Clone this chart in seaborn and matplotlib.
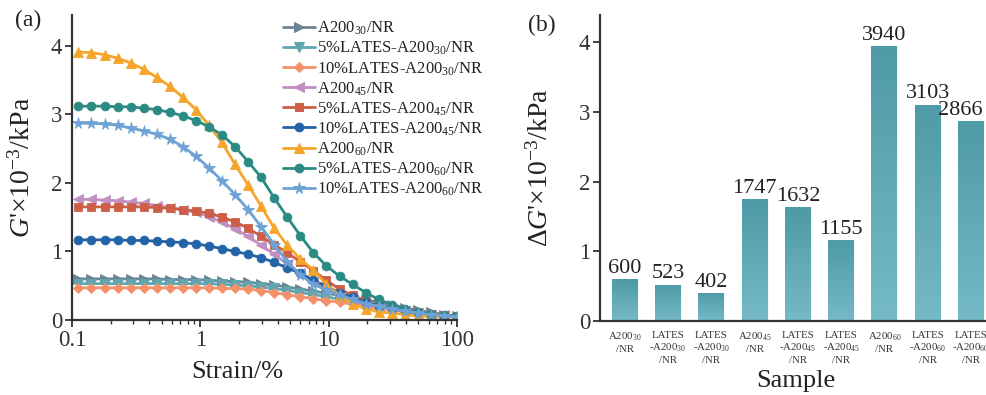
import numpy as np
import pandas as pd
import matplotlib
matplotlib.use("Agg")
import matplotlib.pyplot as plt
from matplotlib.colors import LinearSegmentedColormap
from matplotlib.ticker import FixedLocator, FixedFormatter, LogLocator, NullFormatter
import seaborn as sns

# ---------------- data ----------------
strain = [0.1122, 0.1418, 0.1792, 0.2265, 0.2863, 0.3619, 0.4574, 0.5782, 0.7307, 0.9237,
          1.1674, 1.4757, 1.865, 2.3574, 2.9798, 3.7664, 4.7606, 6.0171, 7.6032, 9.6115,
          12.148, 15.355, 19.408, 24.534, 31.007, 39.19, 49.535, 62.62, 79.117, 100.0]

A200_30 = [0.60, 0.60, 0.60, 0.60, 0.60, 0.60, 0.60, 0.59, 0.59, 0.59,
           0.58, 0.57, 0.56, 0.55, 0.53, 0.51, 0.48, 0.45, 0.42, 0.39,
           0.36, 0.32, 0.29, 0.26, 0.22, 0.18, 0.14, 0.11, 0.08, 0.06]
L5_A200_30 = [0.53, 0.53, 0.53, 0.53, 0.53, 0.53, 0.53, 0.53, 0.53, 0.53,
              0.53, 0.52, 0.51, 0.50, 0.48, 0.46, 0.43, 0.40, 0.37, 0.34,
              0.30, 0.27, 0.23, 0.20, 0.16, 0.13, 0.10, 0.08, 0.06, 0.05]
L10_A200_30 = [0.47, 0.47, 0.47, 0.47, 0.47, 0.47, 0.47, 0.47, 0.47, 0.47,
               0.47, 0.46, 0.46, 0.45, 0.43, 0.40, 0.37, 0.34, 0.31, 0.28,
               0.26, 0.23, 0.20, 0.17, 0.15, 0.12, 0.10, 0.08, 0.06, 0.05]
A200_45 = [1.76, 1.76, 1.75, 1.74, 1.72, 1.70, 1.67, 1.64, 1.61, 1.57,
           1.51, 1.43, 1.33, 1.22, 1.09, 0.96, 0.82, 0.68, 0.55, 0.45,
           0.37, 0.30, 0.24, 0.20, 0.16, 0.13, 0.10, 0.08, 0.07, 0.06]
L5_A200_45 = [1.65, 1.65, 1.65, 1.65, 1.65, 1.65, 1.64, 1.63, 1.61, 1.59,
              1.56, 1.50, 1.43, 1.34, 1.22, 1.10, 0.98, 0.85, 0.72, 0.58,
              0.45, 0.36, 0.28, 0.22, 0.17, 0.14, 0.11, 0.09, 0.07, 0.06]
L10_A200_45 = [1.17, 1.17, 1.17, 1.17, 1.16, 1.16, 1.15, 1.14, 1.13, 1.11,
               1.08, 1.04, 1.00, 0.96, 0.91, 0.84, 0.76, 0.68, 0.58, 0.49,
               0.40, 0.33, 0.26, 0.21, 0.17, 0.13, 0.10, 0.08, 0.06, 0.05]
A200_60 = [3.91, 3.90, 3.87, 3.82, 3.75, 3.66, 3.54, 3.41, 3.25, 3.07,
           2.84, 2.59, 2.27, 1.97, 1.66, 1.34, 1.09, 0.89, 0.73, 0.52,
           0.36, 0.24, 0.16, 0.12, 0.10, 0.08, 0.06, 0.05, 0.05, 0.04]
L5_A200_60 = [3.12, 3.12, 3.12, 3.11, 3.11, 3.09, 3.07, 3.03, 2.98, 2.91,
              2.82, 2.70, 2.53, 2.31, 2.08, 1.78, 1.50, 1.23, 0.98, 0.79,
              0.64, 0.52, 0.40, 0.30, 0.22, 0.16, 0.12, 0.09, 0.07, 0.06]
L10_A200_60 = [2.87, 2.87, 2.86, 2.84, 2.80, 2.76, 2.71, 2.64, 2.53, 2.39,
               2.22, 2.03, 1.83, 1.61, 1.36, 1.10, 0.85, 0.66, 0.52, 0.44,
               0.37, 0.30, 0.24, 0.20, 0.16, 0.13, 0.10, 0.08, 0.06, 0.05]

series_names = [r"A200$_{30}$/NR", r"5%LATES-A200$_{30}$/NR", r"10%LATES-A200$_{30}$/NR",
                r"A200$_{45}$/NR", r"5%LATES-A200$_{45}$/NR", r"10%LATES-A200$_{45}$/NR",
                r"A200$_{60}$/NR", r"5%LATES-A200$_{60}$/NR", r"10%LATES-A200$_{60}$/NR"]
series_values = [A200_30, L5_A200_30, L10_A200_30, A200_45, L5_A200_45, L10_A200_45,
                 A200_60, L5_A200_60, L10_A200_60]
series_colors = ["#6b8493", "#5fa6b1", "#f4916b", "#c18fc2", "#cc5f45", "#2364a9",
                 "#f5a52a", "#2b8b84", "#6ea2d4"]
series_markers = [">", "v", "D", "<", "s", "o", "^", "o", "*"]
marker_sizes = [6.5, 6.5, 5.2, 6.5, 5.6, 6.3, 6.5, 6.3, 8.5]

bar_labels = [r"A200$_{30}$" + "\n/NR", "LATES\n" + r"-A200$_{30}$" + "\n/NR",
              "LATES\n" + r"-A200$_{30}$" + "\n/NR", r"A200$_{45}$" + "\n/NR",
              "LATES\n" + r"-A200$_{45}$" + "\n/NR", "LATES\n" + r"-A200$_{45}$" + "\n/NR",
              r"A200$_{60}$" + "\n/NR", "LATES\n" + r"-A200$_{60}$" + "\n/NR",
              "LATES\n" + r"-A200$_{60}$" + "\n/NR"]
delta_G = [600, 523, 402, 1747, 1632, 1155, 3940, 3103, 2866]

# ---------------- style ----------------
sns.set_theme(style="ticks")
plt.rcParams["font.family"] = ["Liberation Serif", "DejaVu Serif"]
plt.rcParams["mathtext.fontset"] = "custom"
plt.rcParams["mathtext.rm"] = "Liberation Serif"
plt.rcParams["mathtext.it"] = "Liberation Serif:italic"
plt.rcParams["mathtext.bf"] = "Liberation Serif:bold"
plt.rcParams["axes.edgecolor"] = "#333333"
plt.rcParams["xtick.color"] = "#333333"
plt.rcParams["ytick.color"] = "#333333"
plt.rcParams["text.color"] = "#222222"
plt.rcParams["axes.labelcolor"] = "#222222"

fig = plt.figure(figsize=(9.87, 3.95), dpi=100)
ax1 = fig.add_axes([72 / 987, 1 - 320 / 395, 385 / 987, 305 / 395])
ax2 = fig.add_axes([600 / 987, 1 - 321 / 395, 387 / 987, 306 / 395])

# ---------------- panel (a) ----------------
rows = []
for name, vals in zip(series_names, series_values):
    for s, v in zip(strain, vals):
        rows.append({"strain": s, "G": v, "sample": name})
df = pd.DataFrame(rows)

sns.lineplot(data=df, x="strain", y="G", hue="sample", style="sample",
             hue_order=series_names, style_order=series_names,
             palette=dict(zip(series_names, series_colors)),
             markers=dict(zip(series_names, series_markers)),
             dashes=False, linewidth=2.0, markersize=6.5,
             ax=ax1, legend=True)

# uniform-looking markers with edges in the line colour
for ln, ms in zip(ax1.lines[:len(series_names)], marker_sizes):
    ln.set_markersize(ms)
    ln.set_markeredgecolor(ln.get_color())
    ln.set_markeredgewidth(0.6)

ax1.set_xscale("log")
ax1.set_xlim(0.1, 100)
ax1.set_ylim(0, 4.45)
ax1.xaxis.set_major_locator(FixedLocator([0.1, 1, 10, 100]))
ax1.xaxis.set_major_formatter(FixedFormatter(["0.1", "1", "10", "100"]))
ax1.xaxis.set_minor_locator(LogLocator(base=10, subs=np.arange(2, 10)))
ax1.xaxis.set_minor_formatter(NullFormatter())
ax1.set_yticks([0, 1, 2, 3, 4])
ax1.tick_params(axis="both", which="major", labelsize=16.5, length=5, width=1.3, pad=2)
ax1.tick_params(axis="x", which="minor", length=3, width=1.0)
for sp in ["top", "right"]:
    ax1.spines[sp].set_visible(False)
for sp in ["left", "bottom"]:
    ax1.spines[sp].set_linewidth(1.6)
ax1.set_xlabel("Strain/%", fontsize=19)
ax1.xaxis.set_label_coords((237 - 72) / 385, (320 - 361) / 305)
ax1.set_ylabel(r"$G$'×10$^{-3}$/kPa", fontsize=20)
ax1.yaxis.set_label_coords((36 - 72) / 385, 0.5)

handles, labels = ax1.get_legend_handles_labels()
for h, ms in zip(handles, marker_sizes):
    h.set_markersize(ms)
    h.set_markeredgecolor(h.get_color())
leg = ax1.legend(handles, labels, loc="upper left", bbox_to_anchor=(283 / 987, 1 - 20 / 395),
                 bbox_transform=fig.transFigure, frameon=False, fontsize=12,
                 handlelength=1.9, handletextpad=0.15, labelspacing=0.16, borderpad=0,
                 borderaxespad=0)

fig.text(15 / 987, 1 - 20 / 395, "(a)", fontsize=17, va="center", ha="left")

# ---------------- panel (b) ----------------
bdf = pd.DataFrame({"sample": bar_labels, "dG": [v / 1000 for v in delta_G]})
bdf["pos"] = range(len(bar_labels))
sns.barplot(data=bdf, x="pos", y="dG", color="#5ea7b3", width=0.6, ax=ax2,
            saturation=1, edgecolor="white", linewidth=0.6)

cmap = LinearSegmentedColormap.from_list("bargrad", ["#75bac6", "#4e9aa6"])
grad = np.linspace(0, 1, 256).reshape(-1, 1)
for p in list(ax2.patches):
    x0, w, h = p.get_x(), p.get_width(), p.get_height()
    im = ax2.imshow(grad, extent=[x0, x0 + w, 0, h], origin="lower", aspect="auto",
                    cmap=cmap, zorder=p.get_zorder() + 0.1, interpolation="bicubic")
    im.set_clip_path(p)

for i, v in enumerate(delta_G):
    dx = -8 if i == len(delta_G) - 1 else 0
    ax2.annotate(f"{v}", xy=(i, v / 1000), xytext=(dx, 1), textcoords="offset points",
                 ha="center", va="bottom", fontsize=16)

ax2.set_xlim(-0.57, 8.37)
ax2.set_ylim(0, 4.39)
ax2.set_xticks(range(len(bar_labels)))
ax2.set_xticklabels(bar_labels, fontsize=7.8, linespacing=1.25)
ax2.set_yticks([0, 1, 2, 3, 4])
ax2.tick_params(axis="y", labelsize=16.5, length=5, width=1.3, pad=2)
ax2.tick_params(axis="x", length=0, pad=7)
for sp in ["top", "right"]:
    ax2.spines[sp].set_visible(False)
for sp in ["left", "bottom"]:
    ax2.spines[sp].set_linewidth(1.6)
ax2.set_xlabel("Sample", fontsize=19)
ax2.xaxis.set_label_coords((796 - 600) / 387, (321 - 370) / 306)
ax2.set_ylabel(r"Δ$G$'×10$^{-3}$/kPa", fontsize=20)
ax2.yaxis.set_label_coords((554 - 600) / 387, 0.5)

fig.text(528 / 987, 1 - 25 / 395, "(b)", fontsize=17, va="center", ha="left")

fig.savefig("out.png", dpi=100)
